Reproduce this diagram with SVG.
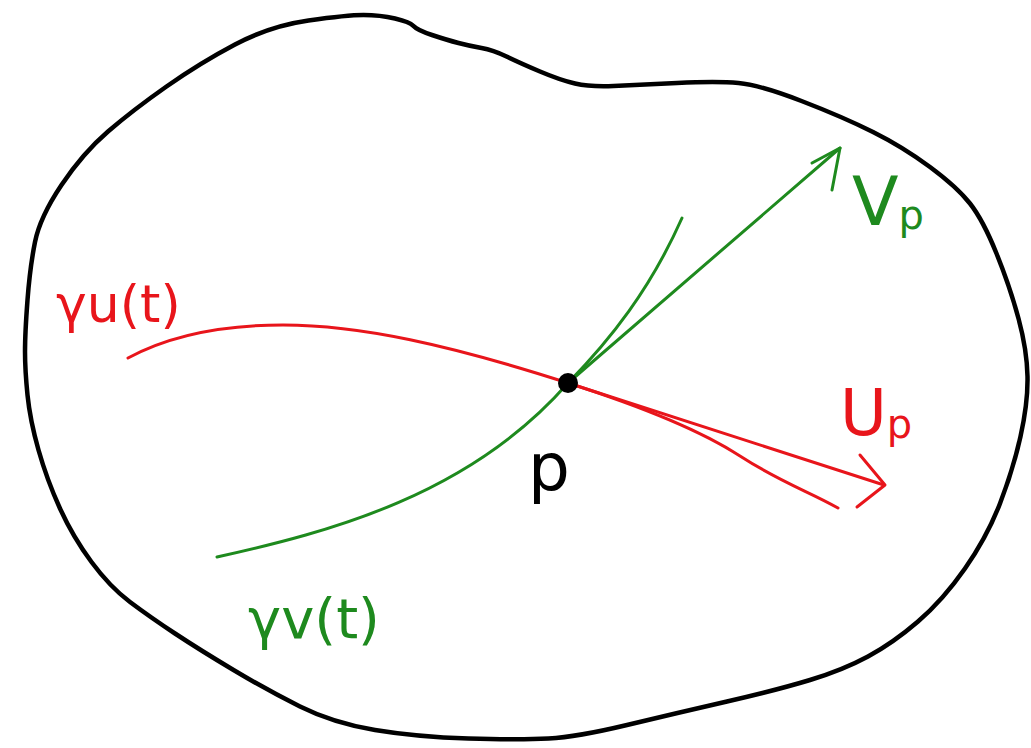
<svg xmlns="http://www.w3.org/2000/svg" width="1031" height="748" viewBox="0 0 1031 748">
<style>
.outline{fill:none;stroke:#000;stroke-width:4.5;stroke-linejoin:round;stroke-linecap:round}
.red{fill:none;stroke:#e8151b;stroke-width:3;stroke-linecap:round;stroke-linejoin:round}
.green{fill:none;stroke:#1e8a1e;stroke-width:3;stroke-linecap:round;stroke-linejoin:round}
.lbl{font-family:"DejaVu Sans","Liberation Sans",sans-serif}
.lr{fill:#e8151b}
.lg{fill:#1e8a1e}
</style>
<rect width="1031" height="748" fill="#fff"/>
<g id="region">
<path class="outline" d="M235,44.5 Q270,26 308.5,20.5 Q347,15 363.5,15 Q380,15 395,18.5 Q410,22 413.5,26 Q417,30 432,35 Q447,40 458.5,43 Q470,46 481.5,48 Q493,50 506.5,56.5 Q520,63 540,71.5 Q560,80 575,83.5 Q590,87 613.5,86 Q637,85 677,83 Q717,81 738.5,83 Q760,85 801.5,101 Q843,117 873,132 Q903,147 930,167 Q957,187 970,203.5 Q983,220 996.5,253.5 Q1010,287 1018.5,318.5 Q1027,350 1027.5,376.5 Q1028,403 1020.5,436.5 Q1013,470 1000,503.5 Q987,537 965,568.5 Q943,600 918,621.5 Q893,643 868,656.5 Q843,670 810,680 Q777,690 727,701.5 Q677,713 627,725 Q577,737 548.5,738.5 Q520,740 468.5,738.5 Q417,737 375,730 Q333,723 300,706.5 Q267,690 233.5,670 Q200,650 175,633.5 Q150,617 130,602 Q110,587 91.5,562 Q73,537 60,508.5 Q47,480 38.5,450 Q30,420 27.5,395 Q25,370 25,351.5 Q25,333 27.5,300 Q30,267 35,242 Q40,217 61.5,185 Q83,153 108,131.5 Q133,110 166.5,86.5 Q200,63 235,44.5 Z"/>
</g>
<g id="connectors">
<path id="curve-u" class="red" d="M128,358 C165,338 215,325 283,325 C360,325 450,345 568,383 C640,406 700,430 740,456 S810,492 838,508"/>
<path id="curve-v" class="green" d="M217,557 C330,532 470,495 568,383 C610,340 650,290 682,218"/>
<g id="vector-u">
<line class="red" x1="568" y1="383" x2="884" y2="485" stroke-width="4"/>
<polyline class="red" points="860,455 885,485 857,507"/>
</g>
<g id="vector-v">
<line class="green" x1="568" y1="383" x2="840" y2="148" stroke-width="4"/>
<polyline class="green" points="812,163 840,148 832,190"/>
</g>
</g>
<g id="point-p">
<circle cx="568" cy="383" r="10" fill="#000"/>
<text class="lbl" x="528" y="490" font-size="66" fill="#000">p</text>
</g>
<g id="label-gu"><text class="lbl lr" x="56" y="322" font-size="52">γu(t)</text></g>
<g id="label-gv"><text class="lbl lg" x="248" y="638" font-size="56">γv(t)</text></g>
<g id="label-vp"><text class="lbl lg" x="852" y="225" font-size="68">V<tspan font-size="40" dy="4">p</tspan></text></g>
<g id="label-up"><text class="lbl lr" x="840" y="435" font-size="64">U<tspan font-size="40" dy="3">p</tspan></text></g>
</svg>
